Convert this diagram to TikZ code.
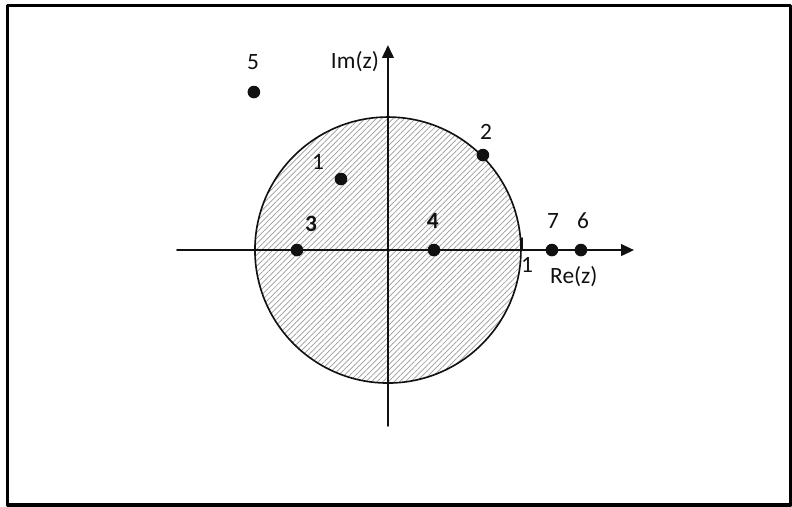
\documentclass[tikz,border=0pt]{standalone}
\usepackage{fontspec}
\setmainfont{Carlito}
\usepackage{xcolor}
\usetikzlibrary{arrows.meta,positioning,patterns.meta}
\definecolor{ink}{HTML}{111111}
\definecolor{hatch}{HTML}{9A9A9A}
\tikzset{
    every picture/.style={line cap=round,line join=round},
    pole/.style={circle,fill=ink,inner sep=0pt,minimum size=5.4pt},
    polelabel/.style={text=ink,inner sep=1pt,font=\normalsize},
    axisarrow/.style={-{Triangle[length=5.5pt,width=5pt]},draw=ink,
      line width=0.8pt},
    unitdisk/.style={draw=ink,line width=0.7pt,
      pattern={Lines[angle=45,distance=1.7pt,line width=0.3pt]},
      pattern color=hatch}
}

\begin{document}
\begin{tikzpicture}[x=2cm,y=2cm,font=\normalsize]
  \useasboundingbox (-2.917,-1.925) rectangle (3.038,1.880);
  \draw[line width=1.3pt] (-2.857,-1.917) rectangle (3.030,1.842);

  % shaded unit disk under the axes
  \draw[unitdisk] (0,0) circle (1);

  \coordinate (xstart) at (-1.586,0);
  \coordinate (xend) at (1.850,0);
  \coordinate (ystart) at (0,-1.323);
  \coordinate (yend) at (0,1.541);
  \draw[axisarrow] (xstart) -- (xend);
  \draw[axisarrow] (ystart) -- (yend);
  \node[polelabel] (imlabel) at (-0.248,1.414) {Im(z)};
  \node[polelabel] (relabel) at (1.398,-0.203) {Re(z)};

  \coordinate (tickbase) at (1.01,0);
  \coordinate (ticktop) at (1.01,0.09);
  \draw[ink,line width=0.8pt] (tickbase) -- (ticktop);
  \node[polelabel] (one) at (1.045,-0.113) {1};

  \foreach \name/\x/\y/\lx/\ly in {1/-0.353/0.534/-0.526/0.662,
      2/0.714/0.714/0.737/0.887,5/-1.008/1.188/-1.015/1.414,
      7/1.233/0/1.241/0.218,6/1.451/0/1.466/0.218} {
    \node[pole] (p\name) at (\x,\y) {};
    \node[polelabel] (l\name) at (\lx,\ly) {\name};
  }
  \foreach \name/\x/\lx/\ly in {3/-0.684/-0.579/0.195,4/0.346/0.338/0.218} {
    \node[pole] (p\name) at (\x,0) {};
    \node[polelabel,font=\bfseries] (l\name) at (\lx,\ly) {\name};
  }
\end{tikzpicture}
\end{document}
